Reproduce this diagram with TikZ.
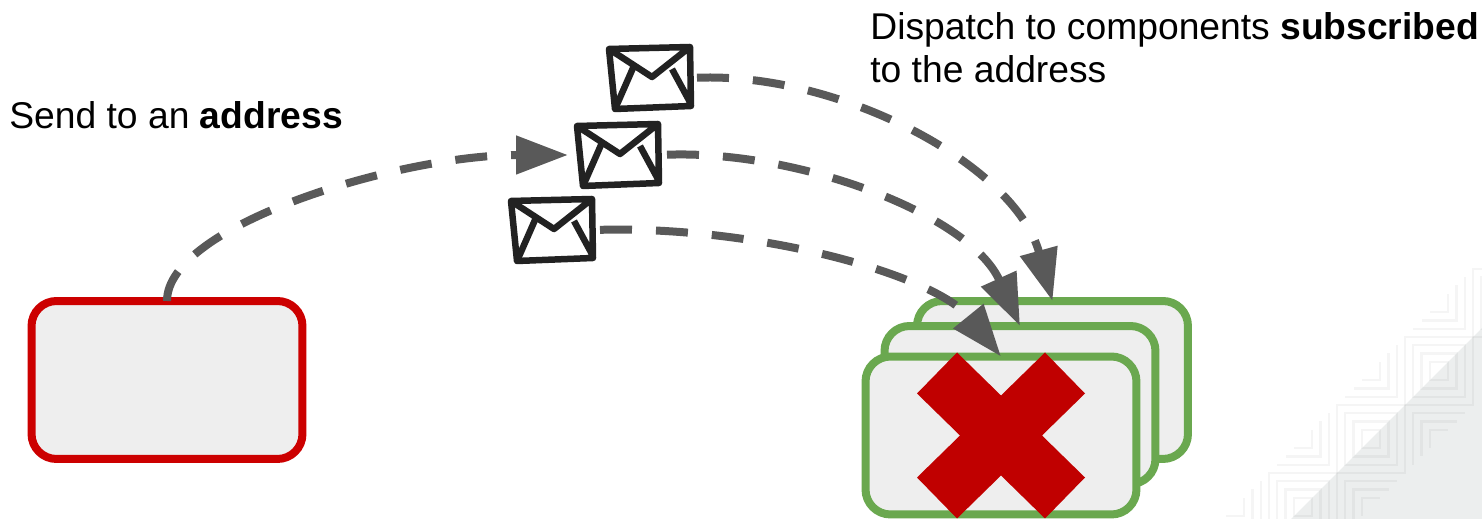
\documentclass[tikz,border=0pt]{standalone}
\usepackage{fontspec}
\setmainfont{Liberation Sans}
\usetikzlibrary{arrows.meta, positioning, calc}
\definecolor{cred}{HTML}{CC0000}
\definecolor{cgreen}{HTML}{6AA84F}
\definecolor{cgrey}{HTML}{595959}
\definecolor{cfill}{HTML}{EEEEEE}
\definecolor{cink}{HTML}{222222}
\definecolor{ccross}{HTML}{C00000}
\definecolor{ccorner}{HTML}{ECEEEE}
\tikzset{
  box/.style={draw=#1, fill=cfill, rounded corners=0.5cm, line width=0.16cm, outer sep=0pt, minimum width=5.42cm, minimum height=3.16cm},
  box/.default=cgreen,
  msg/.style={-{Triangle[length=1.04cm, width=0.74cm]}, draw=cgrey, line width=0.16cm, dash pattern=on 0.64cm off 0.48cm},
  mail/.style={minimum width=1.64cm, minimum height=1.22cm, inner sep=0pt, outer sep=0pt},
  mailline/.style={draw=cink, line width=0.13cm, line join=round},
  label/.style={font=\fontsize{21.2}{24.5}\selectfont, anchor=base west, align=left, inner sep=0pt},
  faint/.style={draw=black, opacity=0.04, line width=0.05cm},
}
\begin{document}
\begin{tikzpicture}[x=0.02cm, y=-0.02cm]
  \useasboundingbox (0,0) rectangle (1482,519);

  % corner decoration
  \begin{scope}
    \clip (0,0) rectangle (1482,519);
    \fill[ccorner] (1291,519) -- (1482,328) -- (1482,519) -- cycle;
    \foreach \cx/\cy in {1507/303, 1439/371, 1371/439, 1303/507}
      \foreach \h in {34, 26, 17.5, 9}
        \draw[faint] (\cx-\h,\cy-\h) rectangle (\cx+\h,\cy+\h);
    \foreach \cx/\cy in {1439/303, 1371/371, 1303/439, 1235/507}
      \foreach \h in {26, 17.5, 9}
        \draw[faint] (\cx-\h,\cy+\h) -- (\cx+\h,\cy+\h) -- (\cx+\h,\cy-\h);
    \foreach \cx/\cy in {1439/439, 1371/507}
      \foreach \h in {26, 17.5, 9}
        \draw[faint] (\cx-\h,\cy+\h) -- (\cx-\h,\cy-\h) -- (\cx+\h,\cy-\h);
  \end{scope}

  % components
  \node[box=cred] (sender) at (167,380) {};
  \node[box] (back) at (1052.5,380) {};
  \node[box] (middle) at (1020,405) {};
  \node[box] (front) at (1001,435.5) {};
  \fill[ccross, shift={(front.center)}] (-44,-83) -- (0,-40) -- (44,-83) -- (84,-42) -- (41,0)
    -- (84,42) -- (44,83) -- (0,40) -- (-44,83) -- (-84,42) -- (-41,0) -- (-84,-42) -- cycle;

  % envelopes
  \foreach \name/\px/\py in {mailA/650/78, mailB/618/155, mailC/552/230} {
    \node[mail] (\name) at (\px,\py) {};
    \draw[mailline, shift={(\name.center)}] (-41,-29) -- (40,-31) -- (41,28) -- (-35,31) -- cycle
      (-41,-29) -- (2,-1) -- (40,-31)
      (-17,-10) -- (-35,31)
      (22,-9) -- (41,26);
  }

  % messages
  \draw[msg, shorten >=0.18cm] (sender.north) .. controls (167,225) and (400,155) .. (mailB.west);
  \draw[msg, shorten <=0.12cm] (mailA.east) .. controls (840,72) and (1015,165) .. (back.north);
  \draw[msg, shorten <=0.16cm] (mailB.east) .. controls (800,150) and (970,215) .. (middle.north);
  \draw[msg, shorten <=0.14cm] (mailC.east) .. controls (760,226) and (935,275) .. (front.north);

  \node[label] (send) at (9,129) {Send to an \textbf{address}};
  \node[label] (dispatch) at (870,83) {Dispatch to components \textbf{subscribed}\\to the address};
\end{tikzpicture}
\end{document}
